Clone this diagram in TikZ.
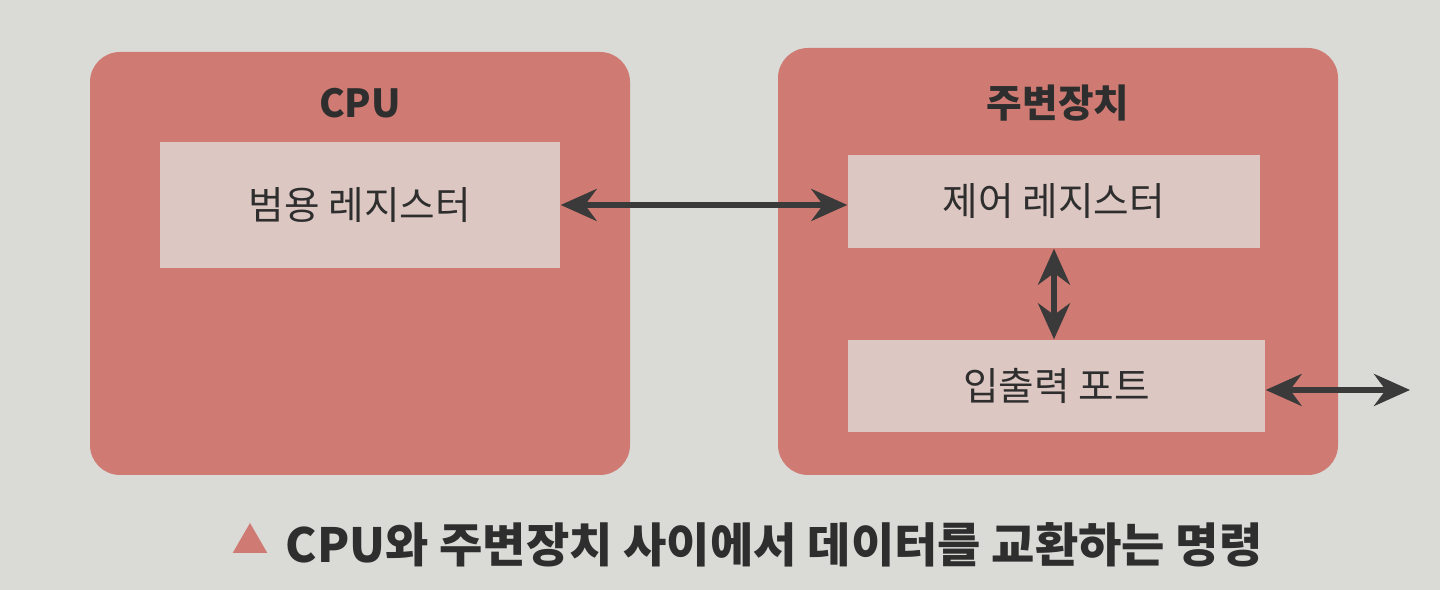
\documentclass[tikz,border=0pt]{standalone}
\usepackage{fontspec}
\usepackage{xcolor}
\usetikzlibrary{arrows.meta,shapes.geometric}
\newfontfamily\krfont{Noto Sans CJK KR}
\definecolor{PgBack}{HTML}{DADAD7}
\definecolor{UnitRed}{HTML}{CF7B73}
\definecolor{RegPink}{HTML}{DDC7C2}
\definecolor{ArrGray}{HTML}{3A3A3A}
\definecolor{CapText}{HTML}{2E2E2E}
\tikzset{
  unitbox/.style={fill=UnitRed,rounded corners=0.3cm,inner sep=0pt},
  regbox/.style={fill=RegPink,inner sep=0pt,font=\krfont\fontsize{11}{13}\selectfont,text=CapText},
  unittitle/.style={font=\krfont\bfseries\fontsize{11}{13}\selectfont,text=CapText},
  dataflow/.style={draw=ArrGray,line width=1.5pt,{Stealth[length=3.6mm,width=3.2mm]}-{Stealth[length=3.6mm,width=3.2mm]}}
}

\begin{document}
\begin{tikzpicture}[x=1cm,y=1cm]
\path[use as bounding box] (0,0) rectangle (14.40,5.90);
\fill[PgBack] (0,0) rectangle (14.40,5.90);
% CPU side
\node[unitbox,minimum width=5.40cm,minimum height=4.23cm] (cpu) at (3.60,3.265) {};
\node[unittitle] (cpuTitle) at (3.60,4.87) {CPU};
\node[regbox,minimum width=4.00cm,minimum height=1.26cm] (gpreg) at (3.60,3.85) {범용 레지스터};
% peripheral side
\node[unitbox,minimum width=5.60cm,minimum height=4.27cm] (periph) at (10.58,3.285) {};
\node[unittitle] (periphTitle) at (10.58,4.87) {주변장치};
\node[regbox,minimum width=4.12cm,minimum height=0.93cm] (ctrlreg) at (10.54,3.885) {제어 레지스터};
\node[regbox,minimum width=4.17cm,minimum height=0.92cm] (ioport) at (10.565,2.04) {입출력 포트};
\coordinate (ext) at (14.10,2.00);
% connectors
\draw[dataflow] (gpreg.east) -- (gpreg.east -| ctrlreg.west);
\draw[dataflow] (ctrlreg.south) -- (ctrlreg.south |- ioport.north);
\draw[dataflow] (ioport.east |- ext) -- (ext);
% caption
\node[fill=UnitRed,regular polygon,regular polygon sides=3,inner sep=0pt,minimum size=0.40cm] (mark) at (2.50,0.47) {};
\node[anchor=west,font=\krfont\bfseries\fontsize{13.4}{16}\selectfont,text=CapText,inner sep=0pt] (caption) at (2.85,0.45) {CPU와 주변장치 사이에서 데이터를 교환하는 명령};
\end{tikzpicture}
\end{document}
